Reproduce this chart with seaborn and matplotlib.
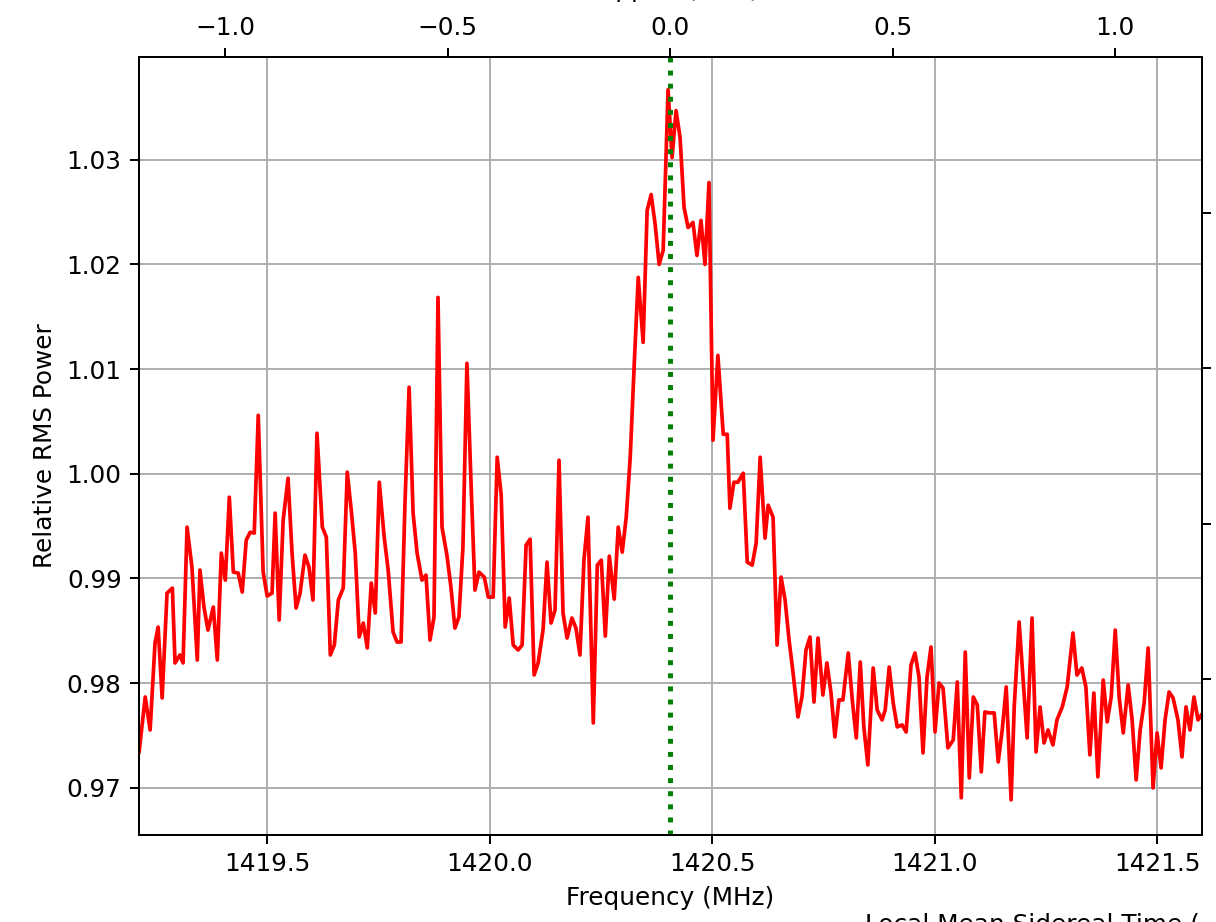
"""
Espectro HI — potência RMS relativa em torno de 1420.4 MHz.
Salva out.png.
"""

import numpy as np
import pandas as pd
import matplotlib
matplotlib.use("Agg")
import matplotlib.pyplot as plt
from matplotlib.ticker import FormatStrFormatter
import seaborn as sns

DPI = 178
HI_LINE = 1420.405752

freq_mhz = [
    1419.212, 1419.226, 1419.237, 1419.248, 1419.255, 1419.264, 1419.275, 1419.287, 1419.293, 1419.304,
    1419.311, 1419.320, 1419.331, 1419.343, 1419.349, 1419.358, 1419.367, 1419.379, 1419.388, 1419.397,
    1419.406, 1419.415, 1419.424, 1419.435, 1419.444, 1419.453, 1419.462, 1419.471, 1419.480, 1419.491,
    1419.500, 1419.511, 1419.518, 1419.527, 1419.536, 1419.547, 1419.556, 1419.565, 1419.574, 1419.585,
    1419.594, 1419.603, 1419.612, 1419.624, 1419.633, 1419.642, 1419.651, 1419.660, 1419.671, 1419.680,
    1419.689, 1419.698, 1419.707, 1419.716, 1419.725, 1419.734, 1419.743, 1419.752, 1419.763, 1419.772,
    1419.783, 1419.792, 1419.801, 1419.810, 1419.819, 1419.828, 1419.837, 1419.848, 1419.857, 1419.866,
    1419.875, 1419.884, 1419.893, 1419.904, 1419.913, 1419.922, 1419.931, 1419.940, 1419.949, 1419.958,
    1419.967, 1419.976, 1419.988, 1419.997, 1420.008, 1420.017, 1420.026, 1420.035, 1420.044, 1420.053,
    1420.064, 1420.073, 1420.082, 1420.091, 1420.100, 1420.109, 1420.120, 1420.129, 1420.138, 1420.147,
    1420.156, 1420.165, 1420.174, 1420.185, 1420.194, 1420.203, 1420.212, 1420.221, 1420.233, 1420.242,
    1420.251, 1420.260, 1420.269, 1420.280, 1420.289, 1420.298, 1420.307, 1420.316, 1420.325, 1420.334,
    1420.345, 1420.354, 1420.363, 1420.372, 1420.381, 1420.390, 1420.401, 1420.410, 1420.419, 1420.428,
    1420.437, 1420.446, 1420.457, 1420.466, 1420.475, 1420.484, 1420.493, 1420.502, 1420.513, 1420.525,
    1420.534, 1420.540, 1420.549, 1420.558, 1420.570, 1420.579, 1420.590, 1420.599, 1420.608, 1420.619,
    1420.626, 1420.637, 1420.646, 1420.655, 1420.664, 1420.673, 1420.682, 1420.693, 1420.702, 1420.711,
    1420.720, 1420.729, 1420.738, 1420.749, 1420.758, 1420.767, 1420.776, 1420.785, 1420.794, 1420.806,
    1420.815, 1420.824, 1420.833, 1420.841, 1420.850, 1420.862, 1420.871, 1420.882, 1420.889, 1420.898,
    1420.907, 1420.916, 1420.927, 1420.936, 1420.947, 1420.956, 1420.965, 1420.974, 1420.983, 1420.992,
    1421.001, 1421.010, 1421.019, 1421.030, 1421.042, 1421.051, 1421.060, 1421.069, 1421.078, 1421.087,
    1421.096, 1421.105, 1421.113, 1421.122, 1421.134, 1421.143, 1421.152, 1421.161, 1421.172, 1421.179,
    1421.190, 1421.199, 1421.208, 1421.219, 1421.228, 1421.237, 1421.246, 1421.255, 1421.266, 1421.275,
    1421.287, 1421.298, 1421.311, 1421.320, 1421.331, 1421.340, 1421.349, 1421.358, 1421.367, 1421.379,
    1421.388, 1421.397, 1421.406, 1421.415, 1421.424, 1421.435, 1421.444, 1421.453, 1421.462, 1421.471,
    1421.480, 1421.491, 1421.500, 1421.509, 1421.518, 1421.527, 1421.536, 1421.547, 1421.556, 1421.565,
    1421.574, 1421.583, 1421.592, 1421.603,
]

rel_power = [
    0.97334, 0.97868, 0.97553, 0.98383, 0.98536, 0.97859, 0.98860, 0.98908, 0.98193, 0.98269,
    0.98193, 0.99490, 0.99108, 0.98221, 0.99080, 0.98727, 0.98507, 0.98727, 0.98221, 0.99242,
    0.98984, 0.99776, 0.99061, 0.99051, 0.98870, 0.99366, 0.99442, 0.99433, 1.00558, 0.99061,
    0.98832, 0.98860, 0.99624, 0.98603, 0.99557, 0.99957, 0.99242, 0.98717, 0.98860, 0.99223,
    0.99108, 0.98794, 1.00387, 0.99490, 0.99395, 0.98269, 0.98364, 0.98794, 0.98908, 1.00015,
    0.99652, 0.99242, 0.98441, 0.98574, 0.98336, 0.98956, 0.98670, 0.99919, 0.99395, 0.99080,
    0.98488, 0.98393, 0.98393, 0.99748, 1.00826, 0.99624, 0.99242, 0.98984, 0.99032, 0.98412,
    0.98631, 1.01684, 0.99490, 0.99223, 0.98918, 0.98526, 0.98631, 0.99299, 1.01055, 0.99938,
    0.98889, 0.99061, 0.99013, 0.98822, 0.98822, 1.00158, 0.99795, 0.98536, 0.98813, 0.98364,
    0.98317, 0.98364, 0.99318, 0.99375, 0.98078, 0.98193, 0.98507, 0.99156, 0.98574, 0.98698,
    1.00129, 0.98670, 0.98431, 0.98622, 0.98526, 0.98269, 0.99175, 0.99585, 0.97620, 0.99127,
    0.99175, 0.98450, 0.99213, 0.98803, 0.99490, 0.99251, 0.99585, 1.00158, 1.01045, 1.01875,
    1.01255, 1.02514, 1.02667, 1.02381, 1.01999, 1.02133, 1.03668, 1.03020, 1.03468, 1.03211,
    1.02543, 1.02352, 1.02400, 1.02085, 1.02419, 1.01999, 1.02781, 1.00320, 1.01131, 1.00377,
    1.00377, 0.99671, 0.99919, 0.99919, 1.00005, 0.99156, 0.99127, 0.99337, 1.00158, 0.99385,
    0.99700, 0.99585, 0.98364, 0.99013, 0.98794, 0.98412, 0.98097, 0.97677, 0.97868, 0.98317,
    0.98441, 0.97820, 0.98431, 0.97887, 0.98193, 0.97916, 0.97487, 0.97840, 0.97840, 0.98288,
    0.97840, 0.97477, 0.98202, 0.97582, 0.97219, 0.98145, 0.97744, 0.97649, 0.97744, 0.98154,
    0.97811, 0.97582, 0.97601, 0.97534, 0.98173, 0.98288, 0.98059, 0.97334, 0.98059, 0.98345,
    0.97534, 0.98002, 0.97954, 0.97382, 0.97458, 0.98011, 0.96905, 0.98297, 0.97095, 0.97868,
    0.97792, 0.97153, 0.97725, 0.97716, 0.97716, 0.97248, 0.97553, 0.97964, 0.96886, 0.97773,
    0.98584, 0.98030, 0.97477, 0.98622, 0.97343, 0.97773, 0.97429, 0.97553, 0.97410, 0.97649,
    0.97773, 0.97964, 0.98479, 0.98078, 0.98145, 0.97964, 0.97315, 0.97906, 0.97105, 0.98030,
    0.97630, 0.97868, 0.98507, 0.97859, 0.97525, 0.97983, 0.97649, 0.97076, 0.97553, 0.97811,
    0.98336, 0.97000, 0.97525, 0.97191, 0.97649, 0.97916, 0.97859, 0.97649, 0.97296, 0.97773,
    0.97553, 0.97868, 0.97649, 0.97716,
]

freq_ticks = [1419.5, 1420.0, 1420.5, 1421.0, 1421.5]
doppler_ticks = [-1.0, -0.5, 0.0, 0.5, 1.0]
power_ticks = [0.97, 0.98, 0.99, 1.00, 1.01, 1.02, 1.03]
lmst_ticks = [0.2, 0.4, 0.6, 0.8]

sns.set_theme(style="ticks", rc={
    "font.size": 10,
    "axes.labelsize": 10,
    "xtick.labelsize": 10,
    "ytick.labelsize": 10,
    "axes.edgecolor": "black",
    "axes.linewidth": 0.8,
    "xtick.color": "black",
    "ytick.color": "black",
    "text.color": "black",
    "axes.labelcolor": "black",
    "xtick.major.size": 3.5,
    "ytick.major.size": 3.5,
    "xtick.major.width": 0.8,
    "ytick.major.width": 0.8,
    "grid.color": "#b0b0b0",
    "grid.linewidth": 0.8,
})
plt.rcParams["font.family"] = ["DejaVu Sans"]

df = pd.DataFrame({"freq": freq_mhz, "power": rel_power})

fig = plt.figure(figsize=(1216 / DPI, 922 / DPI), dpi=DPI)
ax = fig.add_axes([139 / 1216, 1 - 835 / 922, (1202 - 139) / 1216, (835 - 57) / 922])

sns.lineplot(data=df, x="freq", y="power", color="red", linewidth=1.5,
             estimator=None, sort=False, ax=ax)
ax.axvline(HI_LINE, color="green", linestyle=":", linewidth=2, zorder=5)

ax.set_xlim(1419.212, 1421.601)
ax.set_ylim(0.9655, 1.0398)
ax.set_xticks(freq_ticks)
ax.set_yticks(power_ticks)
ax.xaxis.set_major_formatter(FormatStrFormatter("%.1f"))
ax.yaxis.set_major_formatter(FormatStrFormatter("%.2f"))
ax.grid(True)
ax.set_xlabel("Frequency (MHz)")
ax.set_ylabel("Relative RMS Power")

# eixo de cima: deslocamento em relação à linha HI
secax = ax.secondary_xaxis("top", functions=(lambda f: f - HI_LINE, lambda d: d + HI_LINE))
secax.set_xticks(doppler_ticks)
secax.set_xlabel("Doppler (MHz)", labelpad=7.5)

# eixo da direita (resto de outro painel, rótulos fora do quadro)
twin = ax.twinx()
twin.set_ylim(0, 1)
twin.set_yticks(lmst_ticks)
twin.set_yticklabels([""] * len(lmst_ticks))
twin.grid(False)

fig.text(865 / 1216, 1 - 931 / 922, "Local Mean Sidereal Time (", ha="left", va="baseline")

fig.savefig("out.png", dpi=DPI)
plt.close(fig)
